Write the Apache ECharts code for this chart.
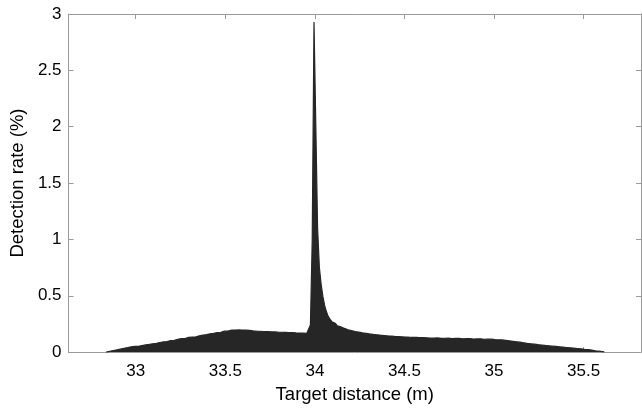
<!DOCTYPE html>
<html>
<head>
<meta charset="utf-8">
<script src="https://cdn.jsdelivr.net/npm/echarts@6/dist/echarts.min.js"></script>
<style>
html,body{margin:0;padding:0;background:#fff;}
#chart{width:642px;height:409px;}
</style>
</head>
<body>
<div id="chart"></div>
<script>
// Histogram bins: first bin start and bin width (m)
var binStart = 32.835;
var binWidth = 0.01;
// Detection rate (%) per bin
var rates = [
  0.004,0.007,0.010,0.014,0.017,0.020,0.024,0.027,0.031,0.034,
  0.037,0.040,0.043,0.047,0.045,0.050,0.053,0.051,0.056,0.058,
  0.061,0.064,0.062,0.068,0.071,0.074,0.072,0.078,0.082,0.085,
  0.088,0.092,0.095,0.093,0.099,0.103,0.106,0.104,0.110,0.113,
  0.116,0.120,0.122,0.119,0.126,0.130,0.128,0.134,0.137,0.135,
  0.140,0.144,0.147,0.150,0.148,0.155,0.158,0.162,0.160,0.166,
  0.170,0.174,0.178,0.176,0.182,0.186,0.190,0.187,0.193,0.196,
  0.198,0.195,0.199,0.197,0.194,0.196,0.192,0.195,0.191,0.193,
  0.190,0.188,0.191,0.186,0.189,0.185,0.187,0.183,0.185,0.182,
  0.184,0.180,0.182,0.179,0.181,0.177,0.180,0.176,0.178,0.175,
  0.177,0.173,0.175,0.172,0.174,0.170,0.172,0.169,0.171,0.168,
  0.170,0.167,0.175,0.205,0.240,0.990,2.930,2.020,1.100,0.750,
  0.600,0.490,0.410,0.355,0.315,0.290,0.270,0.255,0.242,0.232,
  0.224,0.216,0.210,0.204,0.198,0.194,0.190,0.186,0.183,0.180,
  0.177,0.174,0.171,0.168,0.166,0.163,0.161,0.159,0.157,0.155,
  0.154,0.152,0.150,0.149,0.147,0.146,0.144,0.143,0.142,0.140,
  0.139,0.137,0.138,0.135,0.136,0.133,0.134,0.131,0.132,0.130,
  0.131,0.128,0.130,0.127,0.129,0.126,0.128,0.125,0.127,0.126,
  0.124,0.127,0.125,0.123,0.126,0.124,0.122,0.125,0.123,0.121,
  0.124,0.122,0.120,0.123,0.121,0.119,0.122,0.120,0.118,0.121,
  0.119,0.117,0.120,0.118,0.116,0.119,0.117,0.115,0.118,0.116,
  0.114,0.117,0.115,0.113,0.115,0.112,0.110,0.112,0.109,0.107,
  0.108,0.106,0.104,0.102,0.100,0.098,0.096,0.094,0.092,0.090,
  0.088,0.085,0.083,0.081,0.078,0.076,0.074,0.072,0.070,0.068,
  0.066,0.064,0.063,0.061,0.059,0.057,0.056,0.054,0.053,0.051,
  0.050,0.048,0.047,0.045,0.044,0.042,0.041,0.040,0.038,0.037,
  0.035,0.034,0.032,0.030,0.029,0.027,0.025,0.023,0.022,0.020,
  0.018,0.015,0.012,0.010,0.008,0.006,0.004,0.002
];
var xTicks = [33, 33.5, 34, 34.5, 35, 35.5];
var xMin = 32.625, xMax = 35.82;
var yMin = 0, yMax = 3, yStep = 0.5;

// Histogram outline: each bin contributes its left and right edge at its height
var pts = [[binStart, 0]];
rates.forEach(function (v, i) {
  var x0 = +(binStart + i * binWidth).toFixed(4);
  var x1 = +(binStart + (i + 1) * binWidth).toFixed(4);
  pts.push([x0, v], [x1, v]);
});
pts.push([+(binStart + rates.length * binWidth).toFixed(4), 0]);

var axisGray = '#9a9a9a';
var font = 'Liberation Sans, Arial, Helvetica, sans-serif';
var chart = echarts.init(document.getElementById('chart'));
chart.setOption({
  animation: false,
  grid: {left: 64, right: 1, top: 14, bottom: 52, containLabel: false},
  xAxis: [{
    type: 'value', min: xMin, max: xMax, position: 'bottom',
    axisLine: {show: true, lineStyle: {color: axisGray, width: 1}},
    axisTick: {show: true, inside: true, length: 5, customValues: xTicks, lineStyle: {color: axisGray}},
    axisLabel: {show: true, customValues: xTicks, color: '#000', fontSize: 17, fontFamily: font, margin: 11},
    splitLine: {show: false},
    name: 'Target distance (m)', nameLocation: 'middle', nameGap: 28,
    nameTextStyle: {color: '#000', fontSize: 18.5, fontFamily: font}
  }, {
    type: 'value', min: xMin, max: xMax, position: 'top',
    axisLine: {show: true, onZero: false, lineStyle: {color: axisGray, width: 1}},
    axisTick: {show: true, inside: true, length: 5, customValues: xTicks, lineStyle: {color: axisGray}},
    axisLabel: {show: false},
    splitLine: {show: false}
  }],
  yAxis: [{
    type: 'value', min: yMin, max: yMax, interval: yStep, position: 'left',
    axisLine: {show: true, lineStyle: {color: axisGray, width: 1}},
    axisTick: {show: true, inside: true, length: 5, lineStyle: {color: axisGray}},
    axisLabel: {color: '#000', fontSize: 17, fontFamily: font, margin: 7, padding: [0, 0, 4, 0]},
    splitLine: {show: false},
    name: 'Detection rate (%)', nameLocation: 'middle', nameGap: 32,
    nameTextStyle: {color: '#000', fontSize: 18.5, fontFamily: font}
  }, {
    type: 'value', min: yMin, max: yMax, interval: yStep, position: 'right',
    axisLine: {show: true, onZero: false, lineStyle: {color: axisGray, width: 1}},
    axisTick: {show: true, inside: true, length: 5, lineStyle: {color: axisGray}},
    axisLabel: {show: false},
    splitLine: {show: false}
  }],
  series: [{
    type: 'line', xAxisIndex: 0, yAxisIndex: 0,
    symbol: 'none', smooth: false,
    data: pts,
    lineStyle: {width: 1.2, color: '#262626', join: 'miter'},
    areaStyle: {color: '#262626', opacity: 1},
    silent: true
  }]
});
</script>
</body>
</html>
